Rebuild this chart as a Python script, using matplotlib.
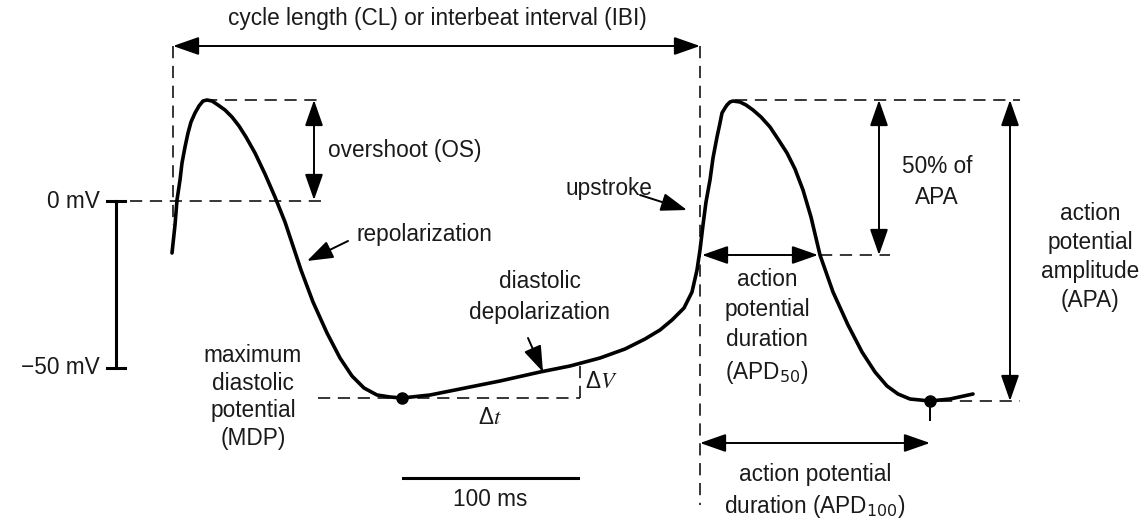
import matplotlib.pyplot as plt

plt.rcParams['font.family'] = ['Liberation Sans', 'DejaVu Sans']

# Membrane potential trace, two beats (picture coordinates, y grows downwards)
trace_x = [172, 175, 177, 180, 182, 185, 188, 191, 195, 199, 203, 207, 212, 218, 225, 232,
           239, 246, 255, 265, 275, 285, 293, 301, 313, 327, 340, 352, 364, 377, 390, 402,
           430, 460, 500, 540, 570, 600, 625, 645, 660, 672, 684, 692, 697, 700, 703, 706,
           710, 713, 717, 720, 722, 725, 727, 730, 733, 740, 746, 753, 761, 770, 778, 787,
           795, 803, 811, 820, 833, 848, 862, 875, 887, 898, 910, 930, 950, 973]
trace_y = [253, 225, 200, 180, 163, 147, 133, 122, 113, 106, 101, 100, 101, 105, 110, 117,
           126, 137, 153, 174, 197, 222, 246, 270, 302, 333, 358, 376, 388, 395, 397, 398,
           395, 389, 381, 372, 366, 358, 349, 339, 330, 320, 308, 292, 270, 250, 225, 202,
           180, 158, 137, 123, 113, 108, 105, 102, 101, 102, 105, 110, 117, 127, 139, 153,
           169, 190, 217, 255, 292, 325, 352, 372, 386, 394, 399, 401, 399, 394]

mdp_points = [(402, 398), (930, 401)]

# dashed guide lines: (x0, y0, x1, y1)
guides = [(173, 46, 173, 225), (700, 46, 700, 505),
          (205, 100, 322, 100), (735, 100, 1020, 100),
          (130, 201, 322, 201), (318, 398, 580, 398), (580, 398, 580, 366),
          (820, 255, 890, 255), (940, 401, 1020, 401)]

# double-headed measurement arrows
spans = [((173, 46), (700, 46)), ((314, 100), (314, 200)), ((879, 100), (879, 255)),
         ((1010, 100), (1010, 401)), ((702, 255), (818, 255)), ((700, 443), (930, 443))]

# pointer arrows (tail, head)
pointers = [((348, 241), (307, 261)), ((640, 195), (687, 210)), ((528, 338), (543, 372))]

# x, y, text, alignment, line spacing
labels = [
    (437, 18, 'cycle length (CL) or interbeat interval (IBI)', 'center', 1.4),
    (328, 150, 'overshoot (OS)', 'left', 1.4),
    (100, 201, '0 mV', 'right', 1.4),
    (100, 368, '\u221250 mV', 'right', 1.4),
    (357, 235, 'repolarization', 'left', 1.4),
    (652, 188, 'upstroke', 'right', 1.4),
    (540, 297, 'diastolic\ndepolarization', 'center', 1.4),
    (253, 397, 'maximum\ndiastolic\npotential\n(MDP)', 'center', 1.25),
    (490, 500, '100 ms', 'center', 1.4),
    (815, 492, 'action potential\nduration (APD$_{100}$)', 'center', 1.35),
    (767, 327, 'action\npotential\nduration\n(APD$_{50}$)', 'center', 1.4),
    (937, 182, '50% of\nAPA', 'center', 1.4),
    (1090, 257, 'action\npotential\namplitude\n(APA)', 'center', 1.35),
]

fig = plt.figure(figsize=(11.48, 5.22), dpi=100)
ax = fig.add_axes([0, 0, 1, 1])
ax.set_xlim(0, 1148)
ax.set_ylim(522, 0)
ax.axis('off')

for x0, y0, x1, y1 in guides:
    ax.plot([x0, x1], [y0, y1], color='black', lw=1.1, linestyle=(0, (8, 5)))

ax.plot(trace_x, trace_y, color='black', lw=2.6, solid_capstyle='round', solid_joinstyle='round')
ax.plot([p[0] for p in mdp_points], [p[1] for p in mdp_points], 'o', color='black', ms=8)

# scale bars
ax.plot([116, 116], [201, 368], color='black', lw=2.2)
ax.plot([107, 125], [201, 201], color='black', lw=2.2)
ax.plot([107, 125], [368, 368], color='black', lw=2.2)
ax.plot([403, 578], [478, 478], color='black', lw=2.2)
ax.plot([930, 930], [401, 420], color='black', lw=1.4)

for a, b in spans:
    ax.annotate('', xy=b, xytext=a,
                arrowprops=dict(arrowstyle='<|-|>,head_length=0.8,head_width=0.28',
                                color='black', lw=1.4, shrinkA=0, shrinkB=0, mutation_scale=20))
for a, b in pointers:
    ax.annotate('', xy=b, xytext=a,
                arrowprops=dict(arrowstyle='-|>,head_length=0.8,head_width=0.28',
                                color='black', lw=1.4, shrinkA=0, shrinkB=0, mutation_scale=20))

for x, y, s, ha, ls in labels:
    ax.text(x, y, s, ha=ha, va='center', fontsize=16.3, color='#1a1a1a',
            multialignment='center', linespacing=ls)

ax.text(585, 382, '\u0394$V$', fontsize=16.3, va='center', ha='left',
        color='#1a1a1a', math_fontfamily='stix')
ax.text(490, 418, '\u0394$t$', fontsize=16.3, va='center', ha='center',
        color='#1a1a1a', math_fontfamily='stix')

fig.savefig('out.png', dpi=100)
